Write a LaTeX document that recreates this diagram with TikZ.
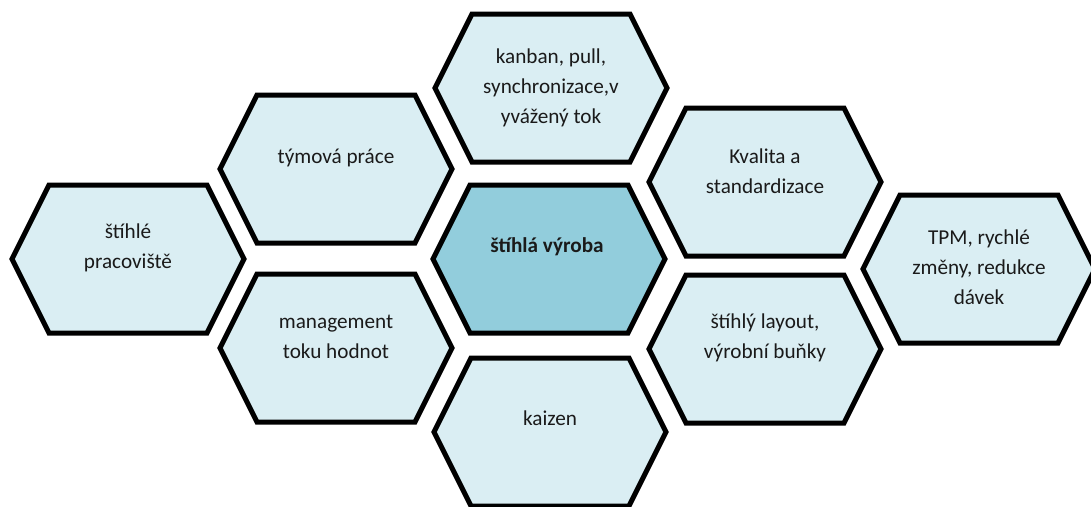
\documentclass[tikz,border=0pt]{standalone}
\usepackage{fontspec}
\setmainfont{Carlito}
\usetikzlibrary{calc}
\definecolor{hexlight}{HTML}{DAEEF3}
\definecolor{hexdark}{HTML}{92CDDC}
\definecolor{txt}{HTML}{1A1A1A}
\tikzset{
  hexline/.style={draw=black, line width=5pt, line join=miter},
  hexlabel/.style={align=center, font=\fontsize{21.2}{30}\selectfont, text=txt},
}
\newcommand\hexagon[4]{%
  % #1 name, #2 x, #3 y, #4 fill
  \coordinate (#1) at (#2,#3);
  \filldraw[hexline, fill=#4]
    ($(#1)+(-116,0)$) -- ($(#1)+(-79,-74)$) -- ($(#1)+(79,-74)$) --
    ($(#1)+(116,0)$) -- ($(#1)+(79,74)$) -- ($(#1)+(-79,74)$) -- cycle;
}
\begin{document}
\begin{tikzpicture}[x=1pt,y=-1pt]
\useasboundingbox (0,0) rectangle (1091,506);
\begin{scope}
\clip (0,0) rectangle (1091,506);
\hexagon{hT}{551}{88}{hexlight}
\hexagon{hTeam}{336}{169}{hexlight}
\hexagon{hWork}{128}{259}{hexlight}
\hexagon{hC}{549}{259}{hexdark}
\hexagon{hMgmt}{336}{348}{hexlight}
\hexagon{hKai}{550}{432}{hexlight}
\hexagon{hQual}{765}{182}{hexlight}
\hexagon{hLay}{765}{349}{hexlight}
\hexagon{hTPM}{979}{269}{hexlight}
\end{scope}
\node[hexlabel] (tT) at ($(hT)+(0,0)$) {kanban, pull,\\synchronizace,v\\yvážený tok};
\node[hexlabel] (tTeam) at ($(hTeam)+(0,-11)$) {týmová práce};
\node[hexlabel] (tWork) at ($(hWork)+(0,-11)$) {štíhlé\\pracoviště};
\node[hexlabel, font=\fontsize{21.2}{30}\selectfont\bfseries] (tC) at ($(hC)+(-2,-12)$) {štíhlá výroba};
\node[hexlabel] (tMgmt) at ($(hMgmt)+(0,-11)$) {management\\toku hodnot};
\node[hexlabel] (tKai) at ($(hKai)+(0,-14)$) {kaizen};
\node[hexlabel] (tQual) at ($(hQual)+(0,-11)$) {Kvalita a\\standardizace};
\node[hexlabel] (tLay) at ($(hLay)+(0,-11)$) {štíhlý layout,\\výrobní buňky};
\node[hexlabel] (tTPM) at ($(hTPM)+(0,-2)$) {TPM, rychlé\\změny, redukce\\dávek};
\end{tikzpicture}
\end{document}
